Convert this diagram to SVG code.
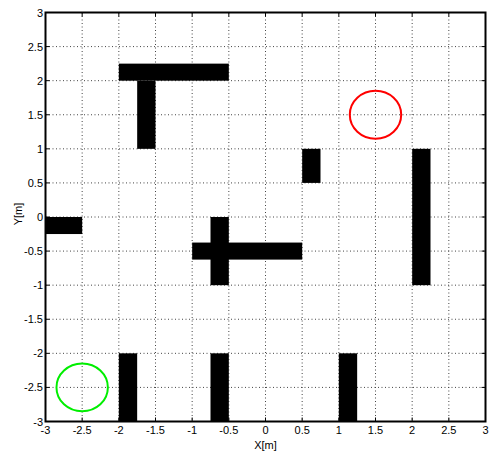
<svg xmlns="http://www.w3.org/2000/svg" width="489" height="454" viewBox="0 0 489 454">
<style>
.grid{stroke:#444;stroke-width:1;stroke-dasharray:1,2.5;fill:none}
.tick{stroke:#000;stroke-width:1;fill:none}
.obs{fill:#000}
.lbl{font-family:"Liberation Sans",Arial,sans-serif;font-size:11px;fill:#000}
.yl{text-anchor:end}
.xl{text-anchor:middle}
</style>
<rect x="0" y="0" width="489" height="454" fill="#fff"/>
<g id="grid">
<path class="grid" d="M82.17 12.5V421.5M118.83 12.5V421.5M155.5 12.5V421.5M192.17 12.5V421.5M228.83 12.5V421.5M265.5 12.5V421.5M302.17 12.5V421.5M338.83 12.5V421.5M375.5 12.5V421.5M412.17 12.5V421.5M448.83 12.5V421.5"/>
<path class="grid" d="M45.5 46.58H485.5M45.5 80.67H485.5M45.5 114.75H485.5M45.5 148.83H485.5M45.5 182.92H485.5M45.5 217H485.5M45.5 251.08H485.5M45.5 285.17H485.5M45.5 319.25H485.5M45.5 353.33H485.5M45.5 387.42H485.5"/>
</g>
<g id="obstacles">
<rect class="obs" x="118.83" y="63.63" width="110" height="17.04"/>
<rect class="obs" x="137.17" y="80.67" width="18.33" height="68.17"/>
<rect class="obs" x="302.17" y="148.83" width="18.33" height="34.08"/>
<rect class="obs" x="412.17" y="148.83" width="18.33" height="136.33"/>
<rect class="obs" x="45.5" y="217" width="36.67" height="17.04"/>
<rect class="obs" x="210.5" y="217" width="18.33" height="68.17"/>
<rect class="obs" x="192.17" y="242.56" width="110" height="17.04"/>
<rect class="obs" x="118.83" y="353.33" width="18.33" height="68.17"/>
<rect class="obs" x="210.5" y="353.33" width="18.33" height="68.17"/>
<rect class="obs" x="338.83" y="353.33" width="18.33" height="68.17"/>
</g>
<g id="goal">
<ellipse cx="375.5" cy="114.75" rx="25.7" ry="23.9" fill="none" stroke="#ff0000" stroke-width="2"/>
</g>
<g id="start">
<ellipse cx="82.17" cy="387.42" rx="25.7" ry="23.9" fill="none" stroke="#00ee00" stroke-width="2"/>
</g>
<g id="ticks">
<path class="tick" d="M82.17 421.5v-4M118.83 421.5v-4M155.5 421.5v-4M192.17 421.5v-4M228.83 421.5v-4M265.5 421.5v-4M302.17 421.5v-4M338.83 421.5v-4M375.5 421.5v-4M412.17 421.5v-4M448.83 421.5v-4"/>
<path class="tick" d="M82.17 12.5v4M118.83 12.5v4M155.5 12.5v4M192.17 12.5v4M228.83 12.5v4M265.5 12.5v4M302.17 12.5v4M338.83 12.5v4M375.5 12.5v4M412.17 12.5v4M448.83 12.5v4"/>
<path class="tick" d="M45.5 46.58h4M45.5 80.67h4M45.5 114.75h4M45.5 148.83h4M45.5 182.92h4M45.5 217h4M45.5 251.08h4M45.5 285.17h4M45.5 319.25h4M45.5 353.33h4M45.5 387.42h4"/>
<path class="tick" d="M485.5 46.58h-4M485.5 80.67h-4M485.5 114.75h-4M485.5 148.83h-4M485.5 182.92h-4M485.5 217h-4M485.5 251.08h-4M485.5 285.17h-4M485.5 319.25h-4M485.5 353.33h-4M485.5 387.42h-4"/>
</g>
<g id="frame">
<rect x="45.5" y="12.5" width="440" height="409" fill="none" stroke="#000" stroke-width="2"/>
</g>
<g id="ylabels" class="lbl yl">
<text x="43" y="16.5">3</text>
<text x="43" y="50.6">2.5</text>
<text x="43" y="84.7">2</text>
<text x="43" y="118.8">1.5</text>
<text x="43" y="152.8">1</text>
<text x="43" y="186.9">0.5</text>
<text x="43" y="221">0</text>
<text x="43" y="255.1">-0.5</text>
<text x="43" y="289.2">-1</text>
<text x="43" y="323.3">-1.5</text>
<text x="43" y="357.3">-2</text>
<text x="43" y="391.4">-2.5</text>
<text x="43" y="425.5">-3</text>
</g>
<g id="xlabels" class="lbl xl">
<text x="45.5" y="434">-3</text>
<text x="82.17" y="434">-2.5</text>
<text x="118.83" y="434">-2</text>
<text x="155.5" y="434">-1.5</text>
<text x="192.17" y="434">-1</text>
<text x="228.83" y="434">-0.5</text>
<text x="265.5" y="434">0</text>
<text x="302.17" y="434">0.5</text>
<text x="338.83" y="434">1</text>
<text x="375.5" y="434">1.5</text>
<text x="412.17" y="434">2</text>
<text x="448.83" y="434">2.5</text>
<text x="485.5" y="434">3</text>
</g>
<text class="lbl xl" x="265.5" y="449">X[m]</text>
<text class="lbl xl" x="0" y="0" transform="translate(22,214) rotate(-90)">Y[m]</text>
</svg>
